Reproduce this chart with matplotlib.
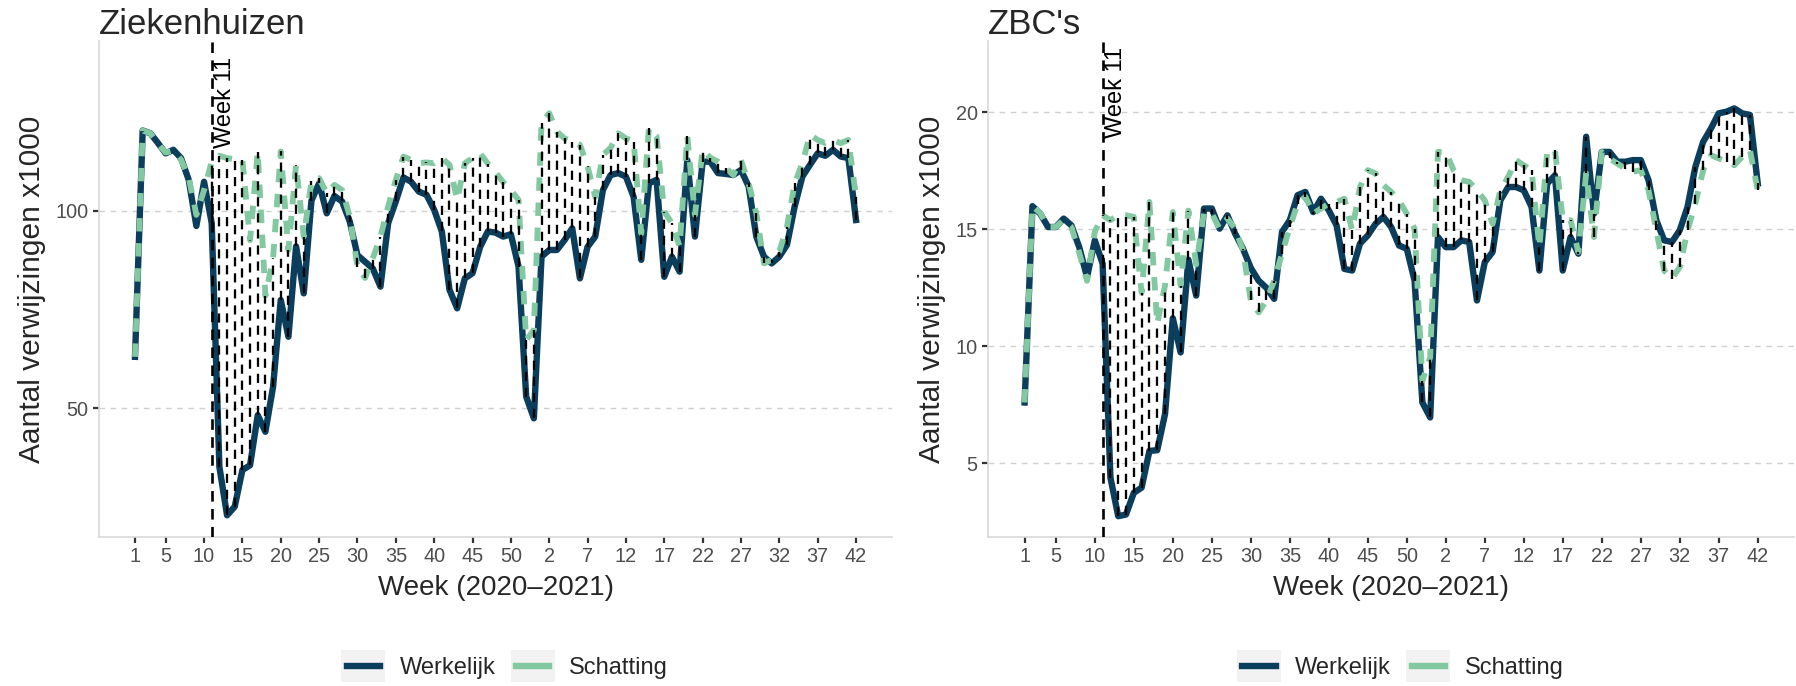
import numpy as np
import matplotlib.pyplot as plt
from matplotlib.lines import Line2D
from matplotlib.patches import Rectangle
from matplotlib.legend_handler import HandlerBase

plt.rcParams['font.family'] = ['Liberation Sans', 'DejaVu Sans']

# week index 1..95 : 2020 w1..w53, then 2021 w1..w42
weeks = np.arange(1, 96)
tick_pos = [1] + list(range(5, 96, 5))
tick_labels = ['1', '5', '10', '15', '20', '25', '30', '35', '40', '45', '50',
               '2', '7', '12', '17', '22', '27', '32', '37', '42']

# Ziekenhuizen (x1000)
ziek_werkelijk = [63.0, 120.4, 119.7, 117.2, 114.6, 115.5, 113.4, 107.9, 96.2, 107.4,
                  96.9, 35.1, 22.8, 25.0, 34.3, 35.5, 48.2, 44.0, 55.4, 77.4,
                  68.1, 91.0, 79.1, 102.6, 107.0, 99.4, 103.8, 102.4, 97.3, 88.8,
                  87.1, 85.4, 80.8, 96.9, 102.4, 108.5, 107.4, 104.9, 104.1, 100.3,
                  94.8, 80.0, 75.3, 82.9, 84.2, 90.9, 94.8, 94.5, 93.5, 94.1,
                  85.9, 52.9, 47.4, 88.4, 90.1, 90.1, 92.6, 95.6, 82.9, 90.9,
                  93.5, 105.3, 109.1, 109.6, 108.7, 103.6, 87.6, 107.0, 107.9, 83.3,
                  88.4, 84.6, 112.9, 93.5, 112.5, 112.5, 109.6, 109.4, 109.1, 110.4,
                  106.2, 93.5, 88.4, 86.7, 88.4, 91.4, 101.1, 108.7, 111.7, 114.6,
                  114.0, 115.5, 113.8, 113.4, 97.7]
ziek_schatting = [63.0, 120.4, 119.7, 117.0, 114.8, 115.3, 113.0, 108.5, 99.0, 105.3,
                  112.5, 114.0, 113.4, 113.1, 112.9, 92.6, 115.0, 78.5, 88.0, 115.1,
                  90.1, 111.7, 93.5, 107.5, 108.3, 104.5, 106.6, 105.3, 98.6, 85.9,
                  83.0, 88.0, 93.5, 101.1, 107.9, 113.8, 112.9, 112.1, 112.3, 112.1,
                  113.4, 111.7, 102.8, 112.1, 113.4, 114.6, 112.0, 109.8, 107.3, 105.3,
                  102.8, 67.3, 69.8, 122.3, 124.8, 120.1, 118.4, 117.6, 116.8, 111.3,
                  103.6, 114.2, 116.0, 119.7, 118.4, 117.6, 94.3, 121.0, 118.9, 99.8,
                  96.9, 91.0, 118.9, 99.0, 115.5, 113.5, 112.5, 111.0, 109.1, 112.9,
                  107.0, 99.4, 86.7, 87.6, 89.7, 96.0, 107.0, 112.1, 119.3, 118.0,
                  117.2, 117.9, 117.2, 118.0, 103.6]

# ZBC's (x1000)
zbc_werkelijk = [7.6, 15.99, 15.67, 15.1, 15.1, 15.46, 15.17, 14.24, 12.96, 14.53,
                 13.53, 4.39, 2.74, 2.81, 3.74, 3.96, 5.53, 5.56, 7.1, 11.2,
                 9.74, 13.7, 12.17, 15.89, 15.89, 15.03, 15.6, 14.81, 14.17, 13.35,
                 12.81, 12.5, 12.03, 14.89, 15.39, 16.46, 16.6, 15.74, 16.31, 15.81,
                 15.17, 13.31, 13.24, 14.39, 14.74, 15.24, 15.53, 15.1, 14.31, 14.17,
                 12.81, 7.6, 6.96, 14.67, 14.24, 14.24, 14.53, 14.46, 11.96, 13.6,
                 14.03, 16.24, 16.81, 16.81, 16.67, 15.96, 13.24, 16.96, 17.31, 13.24,
                 14.67, 13.96, 18.96, 15.67, 18.31, 18.31, 17.89, 17.89, 17.96, 17.96,
                 17.1, 15.39, 14.53, 14.46, 14.96, 15.96, 17.67, 18.74, 19.31, 19.96,
                 20.03, 20.17, 19.96, 19.89, 16.96]
zbc_schatting = [7.6, 16.0, 15.7, 15.1, 15.1, 15.4, 15.1, 14.0, 12.8, 14.9,
                 15.6, 15.39, 15.6, 15.6, 15.53, 12.3, 16.17, 10.96, 12.6, 15.74,
                 12.6, 15.8, 13.5, 15.74, 15.67, 15.03, 15.46, 15.03, 14.1, 11.96,
                 11.45, 11.96, 12.81, 13.96, 15.1, 16.1, 16.39, 15.67, 15.89, 16.1,
                 16.17, 16.31, 14.96, 16.81, 17.53, 17.39, 16.89, 16.6, 16.24, 15.67,
                 15.03, 8.53, 9.53, 18.31, 18.31, 17.53, 17.1, 17.03, 16.67, 16.24,
                 15.24, 16.67, 17.24, 17.96, 17.74, 17.53, 14.24, 18.31, 18.39, 15.39,
                 15.39, 14.03, 17.39, 14.67, 18.31, 18.03, 17.81, 17.6, 17.46, 17.53,
                 16.67, 14.96, 13.24, 12.89, 13.39, 14.96, 16.1, 17.53, 18.17, 18.03,
                 17.89, 17.74, 18.1, 18.39, 16.67]

dark = '#0b3d5c'
green = '#82c8a0'
gray_txt = '#4d4d4d'
text_col = '#262626'


class KeyHandler(HandlerBase):
    # ggplot-like legend key: grey square with a short line in the middle
    def create_artists(self, legend, orig_handle, xdescent, ydescent,
                       width, height, fontsize, trans):
        box = Rectangle((-xdescent, -ydescent), width, height,
                        facecolor='#f2f2f2', edgecolor='none', transform=trans)
        y = -ydescent + height / 2
        ln = Line2D([-xdescent + 0.12 * width, -xdescent + 0.88 * width], [y, y],
                    color=orig_handle.get_color(), lw=4.6, transform=trans)
        return [box, ln]


fig = plt.figure(figsize=(17.96, 6.86), dpi=100)
ax1 = fig.add_axes([0.0551, 0.2172, 0.4416, 0.7230])
ax2 = fig.add_axes([0.5501, 0.2172, 0.4490, 0.7230])


def draw_panel(ax, werkelijk, schatting, title, ylim, yticks, label_y):
    werkelijk = np.array(werkelijk)
    schatting = np.array(schatting)
    ax.plot(weeks, werkelijk, color=dark, lw=4.6, solid_joinstyle='round', zorder=3)
    ax.plot(weeks, schatting, color=green, lw=4.2, linestyle=(0, (2.3, 2.0)), zorder=4)
    sel = weeks >= 11
    lo = np.minimum(werkelijk, schatting)[sel]
    hi = np.maximum(werkelijk, schatting)[sel]
    ax.vlines(weeks[sel], lo, hi, colors='black', lw=1.65,
              linestyles=[(0, (4, 3))], zorder=5)
    ax.axvline(11, color='black', lw=1.9, linestyle=(0, (4, 2.8)), zorder=5)
    ax.text(11.25, label_y, 'Week 11', rotation=90, ha='left', va='center',
            fontsize=17, color='black', zorder=6)

    ax.set_xlim(-3.7, 99.7)
    ax.set_ylim(*ylim)
    ax.set_xticks(tick_pos)
    ax.set_xticklabels(tick_labels)
    ax.set_yticks(yticks)
    ax.grid(axis='y', color='#d0d0d0', lw=1.0, linestyle=(0, (4, 4)))
    ax.set_axisbelow(True)
    for s in ['top', 'right']:
        ax.spines[s].set_visible(False)
    for s in ['left', 'bottom']:
        ax.spines[s].set_color('#d9d9d9')
        ax.spines[s].set_linewidth(1.2)
    ax.tick_params(axis='both', length=4.5, width=1.6, color='#333333',
                   labelsize=14.3, labelcolor=gray_txt, pad=3)
    ax.set_title(title, loc='left', fontsize=25, color=text_col, pad=5)
    ax.set_xlabel('Week (2020\u20132021)', fontsize=20, color=text_col, labelpad=6)
    ax.set_ylabel('Aantal verwijzingen x1000', fontsize=21.5, color=text_col, labelpad=7)

    h1 = Line2D([], [], color=dark)
    h2 = Line2D([], [], color=green)
    bb = ax.get_position()
    fig.legend([h1, h2], ['Werkelijk', 'Schatting'], ncol=2, loc='center',
               bbox_to_anchor=((bb.x0 + bb.x1) / 2 + 0.005, 1 - 666 / 686),
               frameon=False, fontsize=17, handlelength=1.86, handleheight=1.7,
               handletextpad=0.6, columnspacing=0.65, borderpad=0,
               labelcolor=text_col, handler_map={Line2D: KeyHandler()})


draw_panel(ax1, ziek_werkelijk, ziek_schatting, 'Ziekenhuizen',
           (17.3, 143.1), [50, 100], 127.5)
draw_panel(ax2, zbc_werkelijk, zbc_schatting, "ZBC's",
           (1.85, 23.05), [5, 10, 15, 20], 20.87)

fig.savefig('out.png', dpi=100)
